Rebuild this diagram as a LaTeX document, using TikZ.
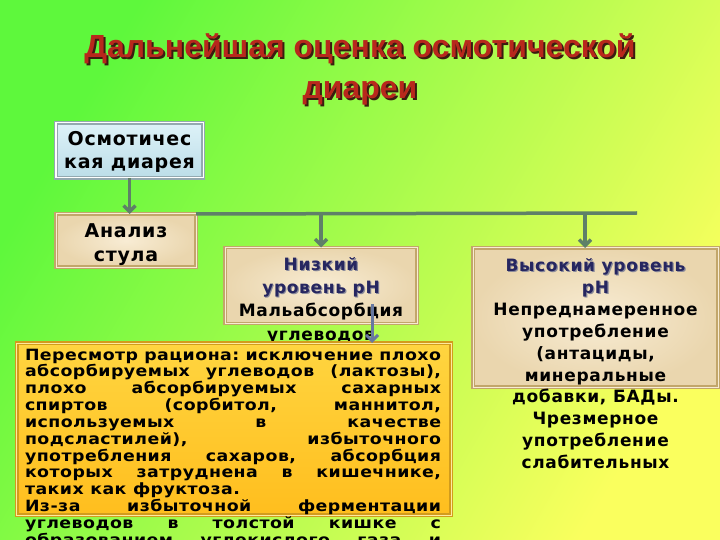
\documentclass[tikz,border=0pt]{standalone}
\usepackage{fontspec}
\setmainfont{DejaVu Sans}
\newfontfamily\titlefont{Liberation Sans}
\newfontfamily\boxfont{DejaVu Sans}[LetterSpace=4]
\newfontfamily\notefont{DejaVu Sans}[LetterSpace=3,FakeStretch=1.12]
\usetikzlibrary{arrows.meta}
\definecolor{bgL}{HTML}{5EF83C}
\definecolor{bgR}{HTML}{FAFF5E}
\definecolor{titlered}{HTML}{B8281C}
\definecolor{titleshadow}{HTML}{3A1C10}
\definecolor{parchin}{HTML}{F8ECD4}
\definecolor{parchout}{HTML}{EAD6AE}
\definecolor{parchedge}{HTML}{C2A66A}
\definecolor{bluetop}{HTML}{DDF2F8}
\definecolor{bluebot}{HTML}{BCDDE8}
\definecolor{blueedge}{HTML}{93A9B0}
\definecolor{orangetop}{HTML}{FFD540}
\definecolor{orangebot}{HTML}{FFBE1E}
\definecolor{orangeedge}{HTML}{D29C1C}
\definecolor{connc}{HTML}{5F8068}
\definecolor{conntwo}{HTML}{6878A0}
\definecolor{headnavy}{HTML}{262660}
\definecolor{headshadow}{HTML}{8C8C9C}
\newcommand{\jline}[1]{\makebox[416bp][s]{\frenchspacing#1}}
\newcommand{\lline}[1]{\makebox[416bp][l]{\frenchspacing#1}}
\begin{document}
\begin{tikzpicture}[x=1bp,y=-1bp,
  every node/.style={inner sep=0pt, outer sep=0pt},
  bluebox/.style={draw=blueedge, line width=1.2bp, double=white, double distance=1bp, top color=bluetop, bottom color=bluebot},
  parchbox/.style={draw=parchedge, line width=1.2bp, double=parchin, double distance=1bp, inner color=parchin, outer color=parchout},
  orangebox/.style={draw=orangeedge, line width=1.2bp, double=orangetop!50!white, double distance=1bp, top color=orangetop, bottom color=orangebot},
  boxtext/.style={font=\boxfont\bfseries\fontsize{17bp}{20bp}\selectfont, anchor=base, text=black},
  bigtext/.style={boxtext, font=\boxfont\bfseries\fontsize{19bp}{22bp}\selectfont},
  headtext/.style={boxtext, text=headnavy},
  headshade/.style={boxtext, text=headshadow},
  notetext/.style={font=\notefont\bfseries\fontsize{15.5bp}{17bp}\selectfont, anchor=base west, text=black},
  titletext/.style={font=\titlefont\bfseries\fontsize{32bp}{36bp}\selectfont, anchor=base, text=titlered},
  titleshade/.style={titletext, text=titleshadow},
  conn/.style={draw=connc, line width=3.5bp},
  conntip/.style={-{Straight Barb[length=6bp,width=12bp]}}
]
\useasboundingbox (0,0) rectangle (720,540);
\shade[left color=bgL, right color=bgR, shading angle=60] (0,0) rectangle (720,540);

% title
\node[titleshade] (t1s) at (362,60) {Дальнейшая оценка осмотической};
\node[titletext] (t1) at (360,58) {Дальнейшая оценка осмотической};
\node[titleshade] (t2s) at (362,101) {диареи};
\node[titletext] (t2) at (360,99) {диареи};

% boxes
\node[bluebox, minimum width=147bp, minimum height=55bp] (osm) at (129.5,150.5) {};
\node[parchbox, minimum width=140bp, minimum height=53bp] (anal) at (126,240.5) {};
\node[parchbox, minimum width=192bp, minimum height=76bp] (low) at (321,285.5) {};
\node[parchbox, minimum width=245bp, minimum height=139bp] (high) at (595.5,317.5) {};

% connectors
\draw[conn, conntip] (osm.south) -- (osm.south |- anal.north);
\coordinate (hlend) at (637,213);
\draw[conn] (anal.north east) -- (hlend);
\coordinate (dropA) at (low.north |- hlend);
\coordinate (dropB) at (585,213);
\draw[conn, conntip] (dropA) -- (low.north);
\draw[conn, conntip] (dropB) -- (dropB |- high.north);

% box texts
\node[bigtext] (osm1) at (129.5,146) {Осмотичес};
\node[bigtext] (osm2) at (129.5,168.5) {кая диарея};
\node[bigtext] (an1) at (126,238) {Анализ};
\node[bigtext] (an2) at (126,262) {стула};

\node[headshade] (lo1s) at (322.2,271.7) {Низкий};
\node[headtext] (lo1) at (321,270.5) {Низкий};
\node[headshade] (lo2s) at (322.2,294.7) {уровень рН};
\node[headtext] (lo2) at (321,293.5) {уровень рН};
\node[boxtext] (lo3) at (321,316.5) {Мальабсорбция};
\node[boxtext] (lo4) at (321,340.5) {углеводов};

\node[headshade] (hi1s) at (596.7,272.7) {Высокий уровень};
\node[headtext] (hi1) at (595.5,271.5) {Высокий уровень};
\node[headshade] (hi2s) at (596.7,294.6) {рН};
\node[headtext] (hi2) at (595.5,293.4) {рН};
\foreach \t [count=\i from 3] in {Непреднамеренное,употребление,{(антациды,},минеральные,{добавки, БАДы.},Чрезмерное,употребление,слабительных}
  \node[boxtext] (hi\i) at (595.5,{271.5+21.9*(\i-1)}) {\t};

% orange box
\node[orangebox, minimum width=434bp, minimum height=172bp] (diet) at (234,429) {};
\coordinate (lowout) at (372,304);
\draw[draw=conntwo, line width=3bp, conntip] (lowout) -- (lowout |- diet.north);

\node[notetext] (n1) at (25,360) {\jline{Пересмотр рациона: исключение плохо}};
\node[notetext] (n2) at (25,376.85) {\jline{абсорбируемых углеводов (лактозы),}};
\node[notetext] (n3) at (25,393.7) {\jline{плохо абсорбируемых сахарных}};
\node[notetext] (n4) at (25,410.55) {\jline{спиртов (сорбитол, маннитол,}};
\node[notetext] (n5) at (25,427.4) {\jline{используемых в качестве}};
\node[notetext] (n6) at (25,444.25) {\jline{подсластилей), избыточного}};
\node[notetext] (n7) at (25,461.1) {\jline{употребления сахаров, абсорбция}};
\node[notetext] (n8) at (25,477.95) {\jline{которых затруднена в кишечнике,}};
\node[notetext] (n9) at (25,494.8) {\lline{таких как фруктоза.}};
\node[notetext] (n10) at (25,511.65) {\jline{Из-за избыточной ферментации}};
\node[notetext] (n11) at (25,528.5) {\jline{углеводов в толстой кишке с}};
\node[notetext] (n12) at (25,545.35) {\jline{образованием углекислого газа и}};
\end{tikzpicture}
\end{document}
